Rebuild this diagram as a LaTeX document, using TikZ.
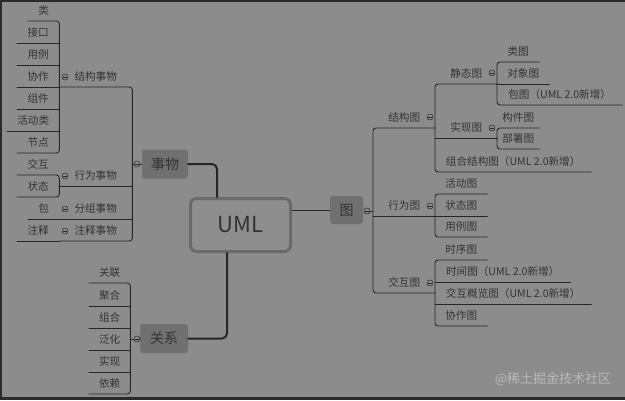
\documentclass[tikz,border=0pt]{standalone}
\usepackage{fontspec}
\newfontfamily\cjk{Noto Sans CJK SC}
\usetikzlibrary{calc}
\definecolor{umlback}{HTML}{8C8C8C}
\definecolor{umlframe}{HTML}{2A2A2A}
\definecolor{umlline}{HTML}{262626}
\definecolor{umltext}{HTML}{333333}
\definecolor{umlbox}{HTML}{707070}
\definecolor{umlborder}{HTML}{6A6A6A}
\definecolor{umlrootfill}{HTML}{8E8E8E}
\definecolor{umlmark}{HTML}{B8B8B8}
\tikzset{
  uml map/.style={
    x=1pt,
    y=-1pt,
    line cap=round,
    line join=round
  },
  uml line/.style={
    draw=umlline,
    line width=0.9pt,
    rounded corners=3pt
  },
  uml link/.style={
    draw=umlline,
    line width=2pt,
    rounded corners=5pt
  },
  uml item/.style={
    inner sep=0pt,
    minimum height=20pt,
    anchor=south west,
    font=\cjk\fontsize{10.6}{12}\selectfont,
    text=umltext
  },
  uml topic/.style={
    fill=umlbox,
    rounded corners=3pt,
    inner sep=0pt,
    font=\cjk\fontsize{14}{16}\selectfont,
    text=umltext
  },
  uml root/.style={
    draw=umlborder,
    fill=umlrootfill,
    line width=3pt,
    rounded corners=6pt,
    minimum width=100pt,
    minimum height=53pt,
    font=\cjk\fontsize{22}{26}\selectfont,
    text=umltext
  },
  uml toggle/.style={
    circle,
    draw=umlline,
    line width=0.5pt,
    fill=umlback,
    minimum size=6pt,
    inner sep=0pt,
    path picture={
      \draw[umlline, line width=0.5pt]
        ([xshift=-1.8pt]path picture bounding box.center) --
        ([xshift=1.8pt]path picture bounding box.center);
    }
  }
}

\begin{document}
\begin{tikzpicture}[uml map]

  % canvas
  \useasboundingbox (0,0) rectangle (625,400);
  \fill[umlback] (0,0) rectangle (625,400);
  \fill[umlframe] (0,0) rectangle (625,2);
  \fill[umlframe] (0,0) rectangle (2,400);
  \fill[umlframe] (0,397) rectangle (625,400);

  % root and main topics
  \node[uml root] (uml) at (240.5,225) {UML};
  \node[uml topic, minimum width=46pt, minimum height=29pt] (shiwu) at (165,164) {事物};
  \node[uml topic, minimum width=48pt, minimum height=29pt] (guanxi) at (164,338.5) {关系};
  \node[uml topic, minimum width=33pt, minimum height=28pt] (tu) at (346.5,210) {图};

  \draw[uml link] (shiwu.east) -| ([xshift=-23.5pt]uml.north);
  \draw[uml link] ([xshift=-13.5pt]uml.south) |- (guanxi.east);
  \draw[uml line, line width=0.8pt] (tu.west -| uml.east) -- (tu.west);

  % things
  \node[uml item, minimum width=73pt] (jgsw) at (59,87) {结构事物};
  \node[uml item, minimum width=73pt] (xwsw) at (59,186) {行为事物};
  \node[uml item, minimum width=73pt] (fzsw) at (59,219) {分组事物};
  \node[uml item, minimum width=73pt] (zssw) at (59,241) {注释事物};

  \node[uml item, minimum width=31pt] (lei) at (28,21) {类};
  \node[uml item, minimum width=42pt] (jiekou) at (17,43) {接口};
  \node[uml item, minimum width=42pt] (yongli) at (17,65) {用例};
  \node[uml item, minimum width=42pt] (xiezuo) at (17,87) {协作};
  \node[uml item, minimum width=42pt] (zujian) at (17,109) {组件};
  \node[uml item, minimum width=52pt] (huodonglei) at (7,131) {活动类};
  \node[uml item, minimum width=42pt] (jiedian) at (17,153) {节点};
  \node[uml item, minimum width=42pt] (jiaohu) at (17,175) {交互};
  \node[uml item, minimum width=42pt] (zhuangtai) at (17,197) {状态};
  \node[uml item, minimum width=31pt] (bao) at (28,219) {包};
  \node[uml item, minimum width=42pt] (zhushi) at (17,241) {注释};

  \draw[uml line] (lei.south west) -- (lei.south east) -- (jiedian.south east) -- (jiedian.south west);
  \foreach \n in {jiekou,yongli,xiezuo,zujian,huodonglei,bao,zhushi,xwsw,fzsw}
    \draw[uml line] (\n.south west) -- (\n.south east);
  \draw[uml line] (jiaohu.south west) -- (jiaohu.south east) -- (zhuangtai.south east) -- (zhuangtai.south west);
  \draw[uml line] (jgsw.south west) -- (jgsw.south east) -- (zssw.south east) -- (zssw.south west);

  \node[uml toggle] (swtoggle) at (137,164) {};
  \draw[uml line] (swtoggle.west -| zssw.south east) -- (swtoggle.west);
  \draw[uml line] (swtoggle.east) -- (shiwu.west);
  \node[uml toggle] (jgtoggle) at (65,77) {};
  \node[uml toggle] (xwtoggle) at (65,176) {};
  \node[uml toggle] (fztoggle) at (65,209) {};
  \node[uml toggle] (zstoggle) at (65,231) {};

  % relations
  \node[uml item, minimum width=41pt] (guanlian) at (89,283) {关联};
  \node[uml item, minimum width=41pt] (juhe) at (89,306) {聚合};
  \node[uml item, minimum width=41pt] (zuhe) at (89,328) {组合};
  \node[uml item, minimum width=41pt] (fanhua) at (89,350) {泛化};
  \node[uml item, minimum width=41pt] (shixian) at (89,372) {实现};
  \node[uml item, minimum width=41pt] (yilai) at (89,394) {依赖};

  \draw[uml line] (guanlian.south west) -- (guanlian.south east) -- (yilai.south east) -- (yilai.south west);
  \foreach \n in {juhe,zuhe,fanhua,shixian}
    \draw[uml line] (\n.south west) -- (\n.south east);

  \node[uml toggle] (gxtoggle) at (137,339) {};
  \draw[uml line] (gxtoggle.west -| yilai.south east) -- (gxtoggle.west);
  \draw[uml line] (gxtoggle.east) -- (guanxi.west);

  % diagrams
  \node[uml item, minimum width=62pt] (jgt) at (373,128) {结构图};
  \node[uml item, minimum width=62pt] (xwt) at (373,216) {行为图};
  \node[uml item, minimum width=62pt] (jht) at (373,293) {交互图};

  \node[uml item, minimum width=62pt] (jtt) at (435,84) {静态图};
  \node[uml item, minimum width=62pt] (sxt) at (435,138) {实现图};
  \node[uml item, minimum width=156pt] (zhjgt) at (435,172) {组合结构图（UML 2.0新增）};

  \node[uml item, minimum width=42pt] (leitu) at (497,62) {类图};
  \node[uml item, minimum width=52pt] (dxt) at (497,84) {对象图};
  \node[uml item, minimum width=125pt] (baotu) at (497,105) {包图（UML 2.0新增）};
  \node[uml item, minimum width=42pt] (gjt) at (497,128) {构件图};
  \node[uml item, minimum width=42pt] (bst) at (497,149) {部署图};

  \node[uml item, minimum width=52pt] (hdt) at (435,194) {活动图};
  \node[uml item, minimum width=52pt] (ztt) at (435,216) {状态图};
  \node[uml item, minimum width=52pt] (ylt) at (435,237) {用例图};

  \node[uml item, minimum width=52pt] (sxtu) at (435,260) {时序图};
  \node[uml item, minimum width=135pt] (sjt) at (435,282) {时间图（UML 2.0新增）};
  \node[uml item, minimum width=156pt] (jhglt) at (435,304) {交互概览图（UML 2.0新增）};
  \node[uml item, minimum width=52pt] (xzt) at (435,326) {协作图};

  \draw[uml line] (jgt.south east) -- (jgt.south west) -- (jht.south west) -- (jht.south east);
  \draw[uml line] (jtt.south east) -- (jtt.south west) -- (zhjgt.south west) -- (zhjgt.south east);
  \draw[uml line] (leitu.south east) -- (leitu.south west) -- (baotu.south west) -- (baotu.south east);
  \draw[uml line] (gjt.south east) -- (gjt.south west) -- (bst.south west) -- (bst.south east);
  \draw[uml line] (hdt.south east) -- (hdt.south west) -- (ylt.south west) -- (ylt.south east);
  \draw[uml line] (sxtu.south east) -- (sxtu.south west) -- (xzt.south west) -- (xzt.south east);
  \foreach \n in {xwt,sxt,dxt,ztt,sjt,jhglt}
    \draw[uml line] (\n.south west) -- (\n.south east);

  \node[uml toggle] (tutoggle) at (367,211) {};
  \draw[uml line] (tutoggle.east) -- (tutoggle.east -| jgt.south west);
  \node[uml toggle] (jgttoggle) at (430,117) {};
  \node[uml toggle] (xwttoggle) at (430,206) {};
  \node[uml toggle] (jhttoggle) at (430,283) {};
  \node[uml toggle] (jtttoggle) at (492,73) {};
  \node[uml toggle] (sxttoggle) at (492,128) {};

  % watermark
  \node[font=\cjk\fontsize{13}{15}\selectfont, text=umlmark] (mark) at (553,379) {@稀土掘金技术社区};

\end{tikzpicture}
\end{document}
